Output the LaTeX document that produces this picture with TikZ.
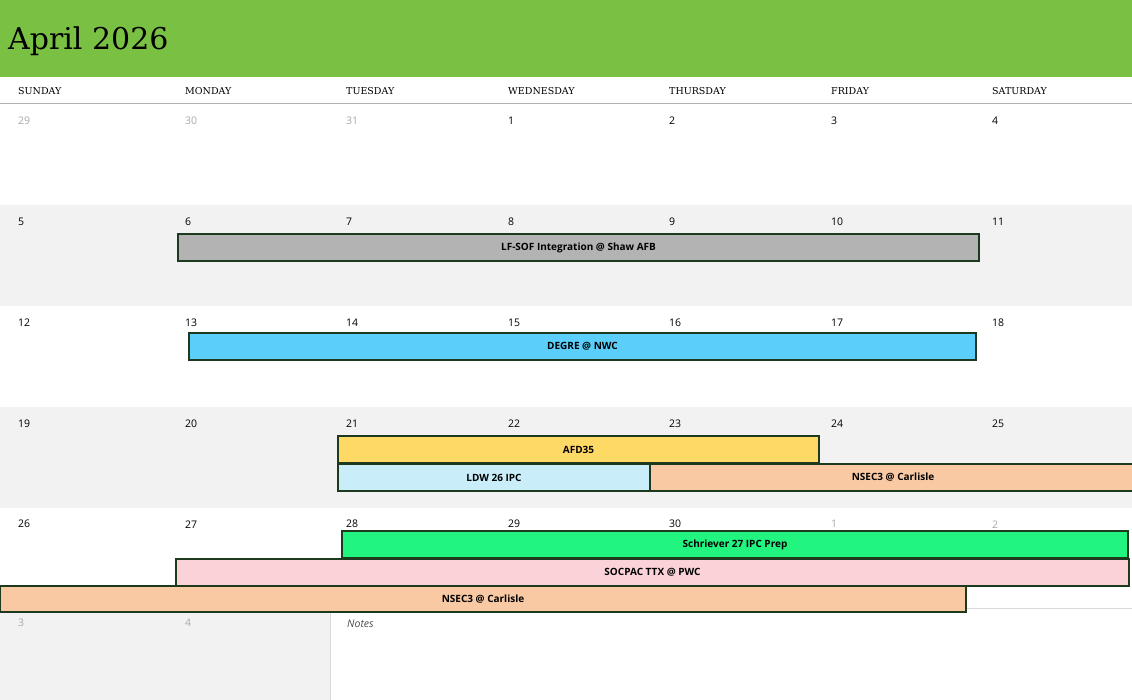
\documentclass[tikz,border=0pt]{standalone}
\usepackage{fontspec}
\setmainfont{Open Sans}
\newfontfamily\slab{DejaVu Serif}
\definecolor{titlegreen}{HTML}{7AC143}
\definecolor{rowgray}{HTML}{F2F2F2}
\definecolor{bord}{HTML}{1E3A1E}
\definecolor{numgray}{HTML}{AAAAAA}
\definecolor{cgray}{HTML}{B3B3B3}
\definecolor{cblue}{HTML}{5BCEFA}
\definecolor{cyellow}{HTML}{FFD966}
\definecolor{clight}{HTML}{C9EEFA}
\definecolor{cpeach}{HTML}{F9C9A3}
\definecolor{cgreen}{HTML}{22F57F}
\definecolor{cpink}{HTML}{FAD2D8}
\begin{document}
\begin{tikzpicture}[x=1pt,y=-1pt,
  daynum/.style={anchor=west,font=\fontsize{10.5}{12}\selectfont,inner sep=0pt},
  dayname/.style={anchor=west,font=\slab\fontsize{9.5}{11}\selectfont,inner sep=0pt},
  ev/.style={draw=bord,line width=1.4pt,font=\fontsize{10}{12}\selectfont\bfseries,text=black}]
\useasboundingbox (0,0) rectangle (1132,700);
\fill[white] (0,0) rectangle (1132,700);
\fill[titlegreen] (0,0) rectangle (1132,77);
\node[anchor=west,font=\slab\fontsize{30}{34}\selectfont,inner sep=0pt] (title) at (8,41) {April 2026};
\foreach \n/\x in {SUNDAY/18,MONDAY/185,TUESDAY/346,WEDNESDAY/508,THURSDAY/669,FRIDAY/831,SATURDAY/992}
  \node[dayname] (h\n) at (\x,91) {\n};
\draw[gray!60,line width=1pt] (0,104) -- (1132,104);
\fill[rowgray] (0,205) rectangle (1132,306);
\fill[rowgray] (0,407) rectangle (1132,508);
\fill[rowgray] (0,608) rectangle (330,700);
\draw[gray!30] (330,608) -- (1132,608);
\draw[gray!30] (330,608) -- (330,700);
% numbers
\def\xs{{18,185,346,508,669,831,992}}
\foreach \a/\b/\c/\d/\e/\f/\g [count=\r] in {29/30/31/1/2/3/4,5/6/7/8/9/10/11,12/13/14/15/16/17/18,19/20/21/22/23/24/25,26/27/28/29/30/1/2}{
  \pgfmathsetmacro{\yy}{121+(\r-1)*100.8}
  \foreach \v [count=\i from 0] in {\a,\b,\c,\d,\e,\f,\g}{
    \pgfmathsetmacro{\xx}{\xs[\i]}
    \pgfmathtruncatemacro{\isgray}{(\r==1 && \i<3) || (\r==5 && \i>4) ? 1 : 0}
    \ifnum\isgray=1
      \node[daynum,text=numgray] (d\r-\i) at (\xx,\yy) {\v};
    \else
      \node[daynum] (d\r-\i) at (\xx,\yy) {\v};
    \fi
  }}
\node[daynum,text=numgray] (d6-0) at (18,623) {3};
\node[daynum,text=numgray] (d6-1) at (185,623) {4};
\node[anchor=west,inner sep=0pt,font=\itshape\fontsize{10.5}{12}\selectfont,text=black!70] (notes) at (347,624) {Notes};
% events
\node[ev,fill=cgray,minimum width=801pt,minimum height=27pt] (e1) at (578.5,247.5) {LF-SOF Integration @ Shaw AFB};
\node[ev,fill=cblue,minimum width=787pt,minimum height=27pt] (e2) at (582.5,346.5) {DEGRE @ NWC};
\node[ev,fill=cyellow,minimum width=481pt,minimum height=27pt] (e3) at (578.5,449.5) {AFD35};
\node[ev,fill=clight,minimum width=312pt,minimum height=27pt] (e4) at (494,477.5) {LDW 26 IPC};
\node[ev,fill=cpeach,minimum width=486pt,minimum height=27pt] (e5) at (893,477.5) {NSEC3 @ Carlisle};
\node[ev,fill=cgreen,minimum width=786pt,minimum height=27pt] (e6) at (735,544.5) {Schriever 27 IPC Prep};
\node[ev,fill=cpink,minimum width=953pt,minimum height=27pt] (e7) at (652.5,572.5) {SOCPAC TTX @ PWC};
\node[ev,fill=cpeach,minimum width=966pt,minimum height=26pt] (e8) at (483,599) {NSEC3 @ Carlisle};
\end{tikzpicture}
\end{document}
